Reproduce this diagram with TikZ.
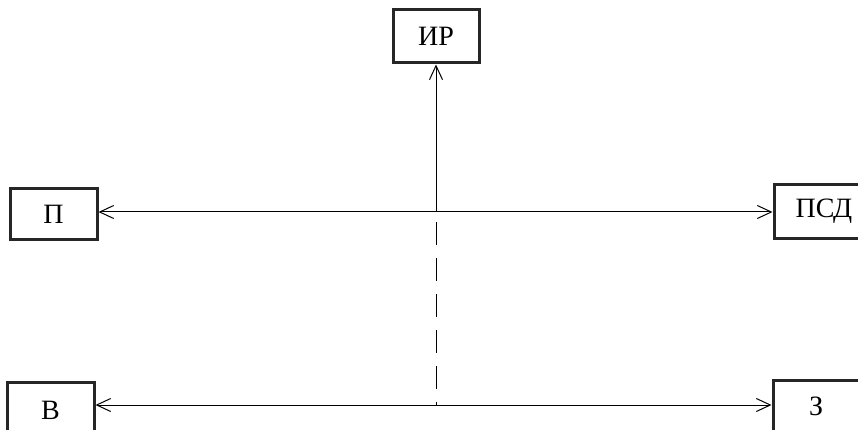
\documentclass[tikz,border=0pt]{standalone}
\usepackage{fontspec}
\setmainfont{Liberation Serif}
\usetikzlibrary{arrows.meta}
\begin{document}
\begin{tikzpicture}[x=1pt,y=-1pt,
  blk/.style={draw=black!85,line width=3pt,minimum width=86pt,minimum height=53pt,inner sep=0pt,font=\fontsize{28}{31}\selectfont},
  conn/.style={line width=1pt},
  tip/.style={-{Straight Barb[length=14pt,width=13pt,line width=1pt]}},
  bitip/.style={{Straight Barb[length=14pt,width=13pt,line width=1pt]}-{Straight Barb[length=14pt,width=13pt,line width=1pt]}}]
\useasboundingbox (0,0) rectangle (858,430);
\clip (0,0) rectangle (858,430);
\node[blk] (ir) at (436,36.5) {ИР};
\node[blk,minimum width=87pt,minimum height=50pt] (p) at (53.5,214) {П};
\node[blk,minimum width=100pt] (psd) at (824,211.5) {ПСД};
\node[blk,minimum width=87pt,minimum height=56pt] (v) at (50.5,410) {В};
\node[blk,minimum width=86pt,minimum height=52pt] (z) at (816,406) {З};
\coordinate (j1) at (436,212);
\coordinate (j2) at (436,405);
\draw[conn,bitip] (p.east |- j1) -- (psd.west |- j1);
\draw[conn,bitip] (v.east |- j2) -- (z.west |- j2);
\draw[conn,tip] (j1) -- (ir.south);
\draw[conn,dash pattern=on 23pt off 13pt,dash phase=26pt] (j1) -- (j2);
\end{tikzpicture}
\end{document}
